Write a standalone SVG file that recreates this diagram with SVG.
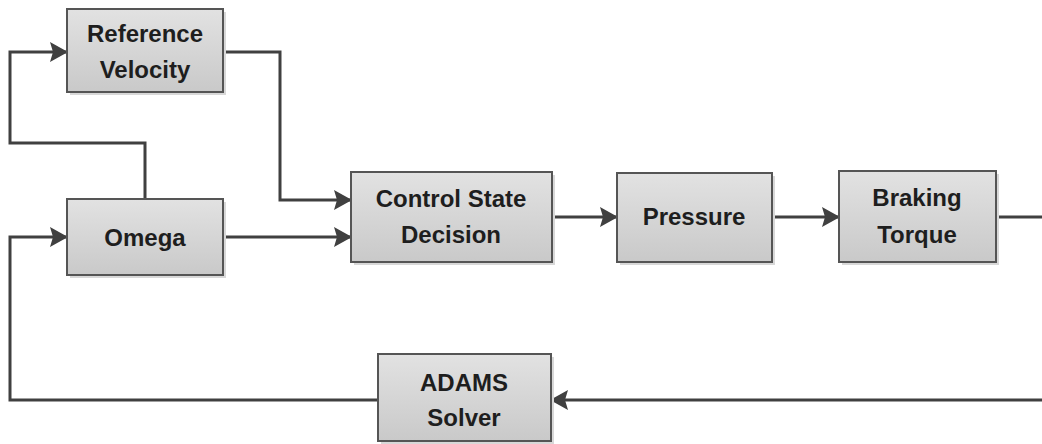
<svg xmlns="http://www.w3.org/2000/svg" width="1042" height="444" viewBox="0 0 1042 444">
  <defs>
    <linearGradient id="boxFill" x1="0" y1="0" x2="0" y2="1">
      <stop offset="0" stop-color="#e2e2e2"/>
      <stop offset="1" stop-color="#c9c9c9"/>
    </linearGradient>
    <marker id="arrow" viewBox="0 0 18 20" refX="17" refY="10" markerWidth="18" markerHeight="20" markerUnits="userSpaceOnUse" orient="auto">
      <path d="M0,0 L18,10 L0,20 L3,10 Z" fill="#404040"/>
    </marker>
    <style>
      .shadow { fill: #d8d8d8; }
      .box { fill: url(#boxFill); stroke: #555555; stroke-width: 2; }
      .label { font-family: "Liberation Sans", Arial, sans-serif; font-weight: bold; font-size: 24px; fill: #1e1e1e; text-anchor: middle; }
      .wire { fill: none; stroke: #404040; stroke-width: 3; }
    </style>
  </defs>

  <rect width="1042" height="444" fill="#ffffff"/>

  <!-- connectors -->
  <g id="connectors">
    <!-- Omega up to Reference Velocity -->
    <path class="wire" d="M145,199 V143 H10 V52 H67" marker-end="url(#arrow)"/>
    <!-- Reference Velocity to Control State Decision -->
    <path class="wire" d="M223,52 H280 V200 H351" marker-end="url(#arrow)"/>
    <!-- Omega to Control State Decision -->
    <path class="wire" d="M223,237 H351" marker-end="url(#arrow)"/>
    <!-- Control State Decision to Pressure -->
    <path class="wire" d="M552,217 H617" marker-end="url(#arrow)"/>
    <!-- Pressure to Braking Torque -->
    <path class="wire" d="M772,217 H839" marker-end="url(#arrow)"/>
    <!-- Braking Torque out to the right edge -->
    <path class="wire" d="M996,217 H1042"/>
    <!-- return line into ADAMS Solver -->
    <path class="wire" d="M1042,400 H551" marker-end="url(#arrow)"/>
    <!-- ADAMS Solver back to Omega -->
    <path class="wire" d="M378,400 H10 V237 H67" marker-end="url(#arrow)"/>
  </g>

  <g id="reference-velocity">
    <rect class="shadow" x="70" y="12" width="156" height="83"/>
    <rect class="box" x="67" y="9" width="156" height="83"/>
    <text class="label" x="145" y="42">Reference</text>
    <text class="label" x="145" y="78">Velocity</text>
  </g>

  <g id="omega">
    <rect class="shadow" x="70" y="202" width="156" height="76"/>
    <rect class="box" x="67" y="199" width="156" height="76"/>
    <text class="label" x="145" y="246">Omega</text>
  </g>

  <g id="control-state-decision">
    <rect class="shadow" x="354" y="175" width="201" height="90"/>
    <rect class="box" x="351" y="172" width="201" height="90"/>
    <text class="label" x="451" y="207">Control State</text>
    <text class="label" x="451" y="243">Decision</text>
  </g>

  <g id="pressure">
    <rect class="shadow" x="620" y="176" width="155" height="89"/>
    <rect class="box" x="617" y="173" width="155" height="89"/>
    <text class="label" x="694" y="225">Pressure</text>
  </g>

  <g id="braking-torque">
    <rect class="shadow" x="842" y="174" width="157" height="91"/>
    <rect class="box" x="839" y="171" width="157" height="91"/>
    <text class="label" x="917" y="206">Braking</text>
    <text class="label" x="917" y="243">Torque</text>
  </g>

  <g id="adams-solver">
    <rect class="shadow" x="381" y="357" width="173" height="87"/>
    <rect class="box" x="378" y="354" width="173" height="87"/>
    <text class="label" x="464" y="391">ADAMS</text>
    <text class="label" x="464" y="426">Solver</text>
  </g>
</svg>
